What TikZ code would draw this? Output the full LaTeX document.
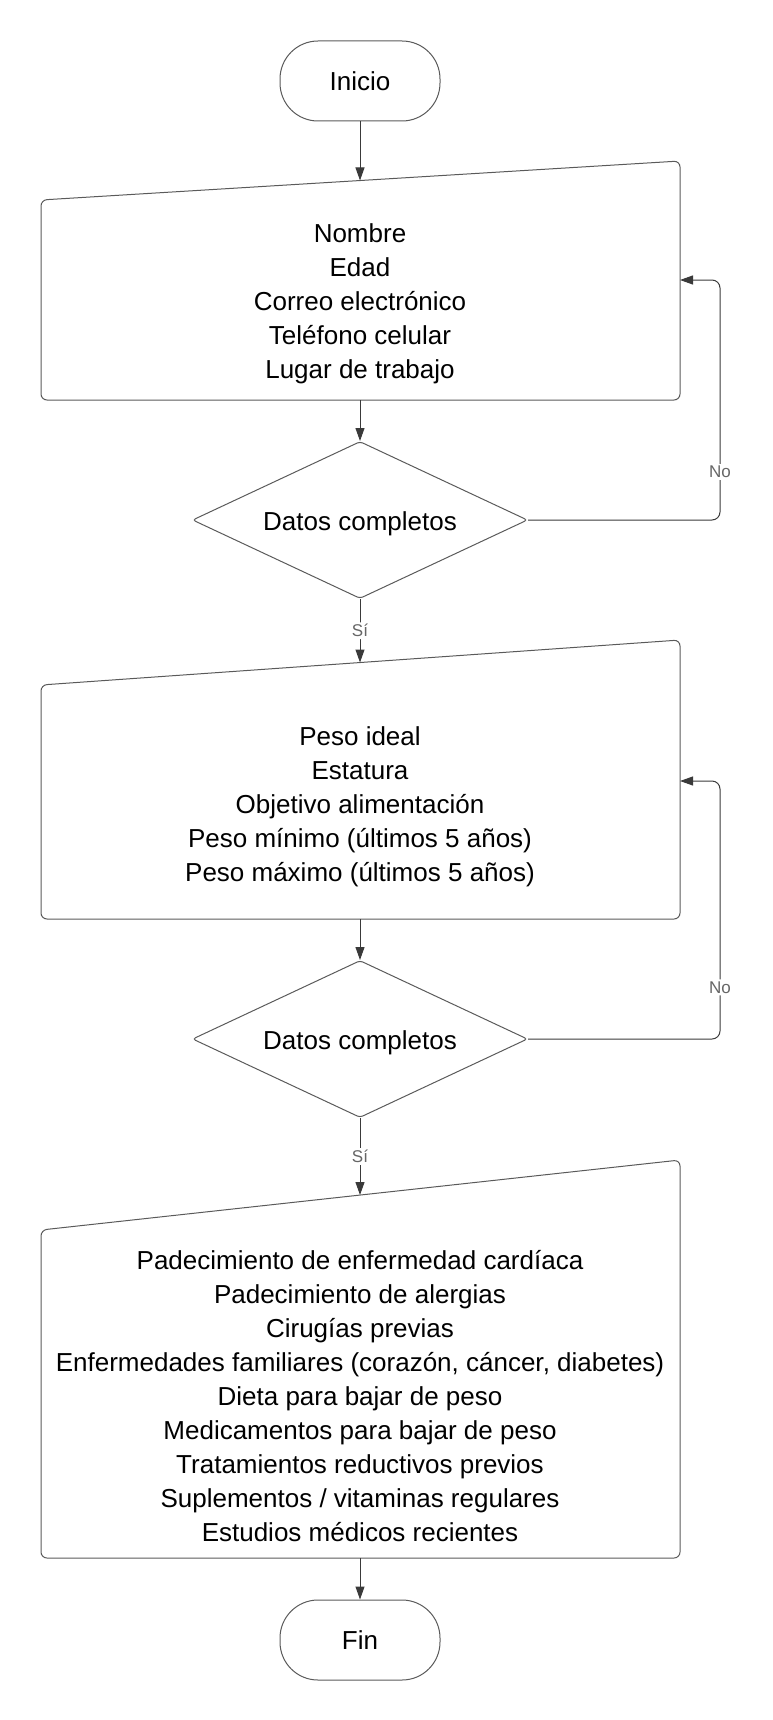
\documentclass[tikz,border=0pt]{standalone}
\usepackage{fontspec}
\setmainfont{Liberation Sans}
\usetikzlibrary{arrows.meta}
\usetikzlibrary{shapes}
\definecolor{trazo}{HTML}{5A5A5A}
\definecolor{flechagris}{HTML}{3A3A3A}

\begin{document}
\begin{tikzpicture}[x=1pt,y=-1pt,>={Triangle[length=13pt,width=9pt]},
terminal/.style={rectangle,rounded corners=38pt,draw=trazo,line width=1pt,minimum width=160pt,minimum height=80pt,font=\fontsize{26}{34}\selectfont},
decision/.style={diamond,draw=trazo,line width=1pt,rounded corners=3pt,minimum width=335pt,minimum height=157pt,inner sep=0pt,aspect=2.13,text height=25pt,text depth=5pt,font=\fontsize{26}{34}\selectfont},
entrada/.style={draw=trazo,line width=1pt,rounded corners=6pt},
texto/.style={align=center,font=\fontsize{26}{34}\selectfont},
etiqueta/.style={font=\fontsize{17}{20}\selectfont,text=black!60,fill=white,inner sep=2pt}
]
\useasboundingbox (0,0) rectangle (772,1720);

\node[terminal](inicio) at (360,81){Inicio};

% primer bloque de datos
\draw[entrada] (41,200)--(680,161)--(680,400)--(41,400)--cycle;
\coordinate (e1norte) at (360,180.5);
\coordinate (e1sur) at (360,400);
\coordinate (e1ret) at (680,280);
\coordinate (lazo1) at (720,280);
\node[texto](personales) at (360,303.5){Nombre\\Edad\\Correo electrónico\\Teléfono celular\\Lugar de trabajo};

\node[decision](datos1) at (360,520){Datos completos};

% segundo bloque de datos
\draw[entrada] (41,685)--(680,640)--(680,919)--(41,919)--cycle;
\coordinate (e2norte) at (360,662.5);
\coordinate (e2sur) at (360,919);
\coordinate (e2ret) at (680,781);
\coordinate (lazo2) at (720,781);
\node[texto](peso) at (360,807){Peso ideal\\Estatura\\Objetivo alimentación\\Peso mínimo (últimos 5 años)\\Peso máximo (últimos 5 años)};

\node[decision](datos2) at (360,1039){Datos completos};

% tercer bloque de datos
\draw[entrada] (41,1230)--(680,1160)--(680,1558)--(41,1558)--cycle;
\coordinate (e3norte) at (360,1195);
\coordinate (e3sur) at (360,1558);
\node[texto](salud) at (360,1396.5){Padecimiento de enfermedad cardíaca\\Padecimiento de alergias\\Cirugías previas\\Enfermedades familiares (corazón, cáncer, diabetes)\\Dieta para bajar de peso\\Medicamentos para bajar de peso\\Tratamientos reductivos previos\\Suplementos / vitaminas regulares\\Estudios médicos recientes};

\node[terminal](fin) at (360,1640){Fin};

\begin{scope}[->, draw=flechagris, line width=1pt, rounded corners=8pt]
\draw (inicio)--(e1norte);
\draw (e1sur)--(datos1);
\draw (datos1.south)--(e2norte) node[pos=.5, etiqueta]{Sí};
\draw (datos1.east)-|(lazo1) node[pos=.6, etiqueta]{No} --(e1ret);
\draw (e2sur)--(datos2);
\draw (datos2.south)--(e3norte) node[pos=.5, etiqueta]{Sí};
\draw (datos2.east)-|(lazo2) node[pos=.6, etiqueta]{No} --(e2ret);
\draw (e3sur)--(fin);
\end{scope}

\end{tikzpicture}
\end{document}
